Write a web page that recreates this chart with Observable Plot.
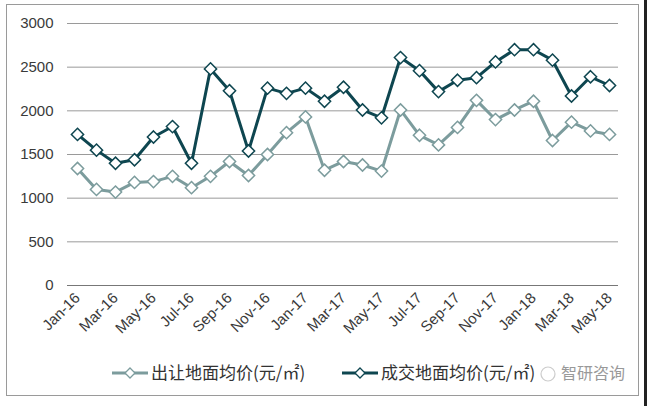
<!DOCTYPE html>
<html><head><meta charset="utf-8">
<script src="https://cdn.jsdelivr.net/npm/d3@7"></script>
<script src="https://cdn.jsdelivr.net/npm/@observablehq/plot@0.6"></script>
<style>
body{margin:0;background:#fff;}
#wrap{position:relative;width:650px;height:406px;overflow:hidden;background:#fff;font-family:"Noto Sans CJK SC","Noto Sans",sans-serif;}
#frame{position:absolute;left:6px;top:4px;width:633px;height:392px;border:1px solid #9a9a9a;box-sizing:border-box;}
#edge{position:absolute;left:644px;top:0;width:3px;height:406px;background:#222;}
#chart{position:absolute;left:0;top:0;}
#legend{position:absolute;left:0;top:358px;width:650px;height:30px;}
</style></head>
<body><div id="wrap"><div id="frame"></div><div id="chart"></div><div id="legend"></div><div id="edge"></div></div>
<script>
const months = ["Jan-16","Feb-16","Mar-16","Apr-16","May-16","Jun-16","Jul-16","Aug-16","Sep-16","Oct-16","Nov-16","Dec-16",
"Jan-17","Feb-17","Mar-17","Apr-17","May-17","Jun-17","Jul-17","Aug-17","Sep-17","Oct-17","Nov-17","Dec-17",
"Jan-18","Feb-18","Mar-18","Apr-18","May-18"];
const offered = [1340,1100,1070,1180,1190,1250,1120,1250,1420,1260,1500,1750,1930,1320,1420,1380,1310,2010,1720,1610,1810,2120,1900,2010,2110,1660,1870,1770,1730];
const traded = [1730,1550,1400,1440,1700,1820,1400,2480,2230,1540,2260,2200,2260,2110,2270,2010,1920,2610,2460,2220,2350,2380,2560,2700,2700,2580,2170,2390,2290];
const seriesNames = ["出让地面均价(元/㎡)","成交地面均价(元/㎡)"];
const colors = ["#7c9c9d","#0e4650"];
const yTicks = [0,500,1000,1500,2000,2500,3000];

const rows = [];
months.forEach((m,i)=>{
  rows.push({month:m, value:offered[i], series:seriesNames[0]});
  rows.push({month:m, value:traded[i], series:seriesNames[1]});
});
const xTicks = months.filter((d,i)=>i%2===0);

const chart = Plot.plot({
  width:650, height:345,
  marginLeft:67, marginRight:32, marginTop:23, marginBottom:60,
  style:{fontFamily:"'Liberation Sans',Arial,sans-serif", fontSize:"14px", color:"#3a3a3a", background:"transparent"},
  x:{type:"point", domain:months, padding:0.47, ticks:xTicks, tickRotate:-45, tickSize:0, tickPadding:10, label:null},
  y:{domain:[0,3000], ticks:yTicks, tickFormat:d=>String(d), tickSize:0, tickPadding:14, label:null},
  color:{domain:seriesNames, range:colors},
  marks:[
    Plot.ruleY(yTicks.filter(d=>d>0), {stroke:"#9a9a9a", strokeWidth:1, strokeOpacity:1}),
    Plot.ruleY([0], {stroke:"#777", strokeWidth:1.2}),
    Plot.line(rows, {x:"month", y:"value", z:"series", stroke:"series", strokeWidth:3}),
    Plot.dot(rows, {x:"month", y:"value", stroke:"series", fill:"#fff", symbol:"diamond2", r:5.5, strokeWidth:1.5})
  ]
});
chart.querySelectorAll("[aria-label='y-axis tick label']").forEach(g=>g.setAttribute("font-size","15"));
chart.querySelectorAll("[aria-label='x-axis tick label']").forEach(g=>g.setAttribute("font-size","15"));
document.getElementById("chart").appendChild(chart);

// legend
const lg = d3.select("#legend").append("svg").attr("width",650).attr("height",30);
const items = [{x:112, name:seriesNames[0], c:colors[0]},{x:342, name:seriesNames[1], c:colors[1]}];
items.forEach(it=>{
  lg.append("line").attr("x1",it.x).attr("x2",it.x+36).attr("y1",15).attr("y2",15).attr("stroke",it.c).attr("stroke-width",3);
  lg.append("path").attr("d","M0,-5L5,0L0,5L-5,0Z").attr("transform",`translate(${it.x+18},15)`).attr("fill","#fff").attr("stroke",it.c).attr("stroke-width",1.3);
  lg.append("text").attr("x",it.x+39).attr("y",21).attr("font-size",17).attr("fill","#333")
    .attr("font-family","'Noto Sans CJK SC',sans-serif").text(it.name);
});
lg.append("circle").attr("cx",548).attr("cy",16).attr("r",7).attr("fill","none").attr("stroke","#ccc").attr("stroke-width",1.2);
lg.append("text").attr("x",561).attr("y",21).attr("font-size",16).attr("fill","#999")
  .attr("font-family","'Noto Sans CJK SC',sans-serif").text("智研咨询");
</script>
</body></html>
